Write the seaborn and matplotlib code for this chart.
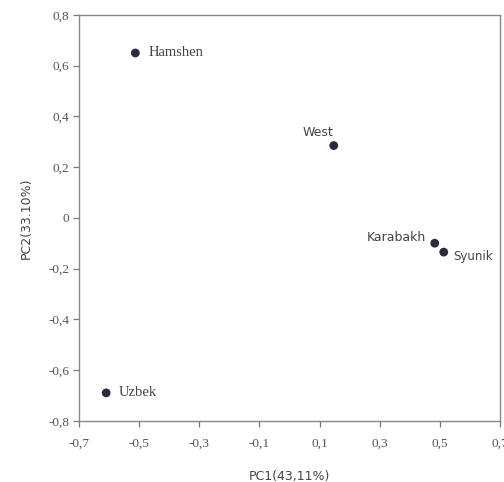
import matplotlib
matplotlib.use('Agg')
import matplotlib.pyplot as plt
import seaborn as sns
import pandas as pd

# PCA scores
regions = ['Hamshen', 'West', 'Karabakh', 'Syunik', 'Uzbek']
pc1 = [-0.513, 0.147, 0.483, 0.513, -0.61]
pc2 = [0.65, 0.285, -0.10, -0.135, -0.69]

x_ticks = [-0.7, -0.5, -0.3, -0.1, 0.1, 0.3, 0.5, 0.7]
y_ticks = [-0.8, -0.6, -0.4, -0.2, 0, 0.2, 0.4, 0.6, 0.8]

df = pd.DataFrame({'region': regions, 'pc1': pc1, 'pc2': pc2})

sns.set_style('white')

fig = plt.figure(figsize=(5.04, 4.82), dpi=100)
ax = fig.add_axes([0.157, 0.127, 0.835, 0.842])

sns.scatterplot(data=df, x='pc1', y='pc2', ax=ax, color='#2a2c3e',
                s=40, edgecolor='none', legend=False)

ax.set_xlim(-0.7, 0.7)
ax.set_ylim(-0.8, 0.8)
ax.set_xticks(x_ticks)
ax.set_yticks(y_ticks)


def comma(v):
    if v == 0:
        return '0'
    return ('%.1f' % v).replace('.', ',')


ax.set_xticklabels([comma(v) for v in x_ticks], family='Liberation Serif',
                   fontsize=9.5, color='#555555')
ax.set_yticklabels([comma(v) for v in y_ticks], family='Liberation Serif',
                   fontsize=9.5, color='#555555')
ax.tick_params(axis='both', direction='out', length=4, width=0.9,
               color='#777777', left=True, bottom=True)
ax.tick_params(axis='x', pad=8)
ax.tick_params(axis='y', pad=3)

for side in ['left', 'right', 'top', 'bottom']:
    ax.spines[side].set_color('#888888')
    ax.spines[side].set_linewidth(1.0)

ax.set_xlabel('PC1(43,11%)', fontsize=9, color='#444444', labelpad=15,
              family='DejaVu Sans')
ax.set_ylabel('PC2(33.10%)', fontsize=9, color='#444444', labelpad=11,
              family='DejaVu Sans')

# label placement (pixels) for each region
offsets = {'Hamshen': (13, 0, 'left', 'center', 'Liberation Serif', 10.5),
           'Uzbek': (13, 0, 'left', 'center', 'Liberation Serif', 10.5),
           'West': (0, 13, 'right', 'center', 'DejaVu Sans', 9),
           'Karabakh': (-9, 6, 'right', 'center', 'DejaVu Sans', 9),
           'Syunik': (9, -4, 'left', 'center', 'DejaVu Sans', 8.5)}

for name, x, y in zip(regions, pc1, pc2):
    dx, dy, ha, va, fam, fs = offsets[name]
    ax.annotate(name, (x, y), xytext=(dx, dy), textcoords='offset pixels',
                ha=ha, va=va, fontsize=fs, color='#444444', family=fam)

fig.savefig('out.png', dpi=100)
